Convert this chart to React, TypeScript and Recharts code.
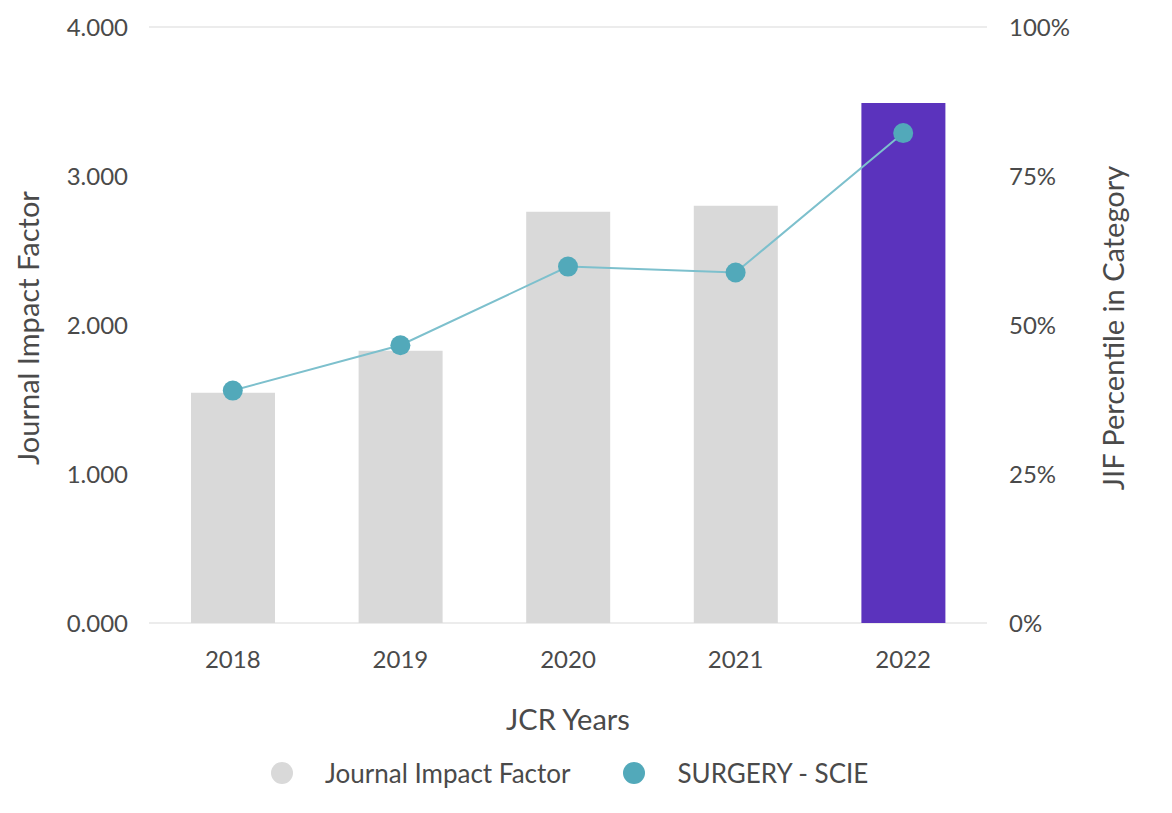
import { ComposedChart, Bar, Line, Cell, XAxis, YAxis, CartesianGrid, Legend } from 'recharts';

const years = ['2018', '2019', '2020', '2021', '2022'];
const impactFactor = [1.546, 1.828, 2.76, 2.8, 3.49];
const percentile = [39.0, 46.6, 59.8, 58.8, 82.2];
const leftTicks = [0, 1, 2, 3, 4];
const rightTicks = [0, 25, 50, 75, 100];
const currentYear = '2022';

const data = years.map((year, i) => ({ year, jif: impactFactor[i], pct: percentile[i] }));

const FONT = 'Lato, "Open Sans", sans-serif';
const TEXT = '#4a4a4a';
const GRAY = '#d9d9d9';
const PURPLE = '#5b33bd';
const TEAL = '#52a9ba';
const TEAL_LINE = '#7dc0cd';

const tickStyle = { fontSize: 24, fill: TEXT, fontFamily: FONT };

function VTitle({ viewBox, value, dx }: any) {
  const x = viewBox.x + dx;
  const y = viewBox.y + viewBox.height / 2 + 3;
  return (
    <text x={x} y={y} transform={`rotate(-90, ${x}, ${y})`} textAnchor="middle"
      dominantBaseline="central" fontSize={29} fill={TEXT} fontFamily={FONT}>
      {value}
    </text>
  );
}

function XTitle({ viewBox }: any) {
  const x = viewBox.x + viewBox.width / 2;
  return (
    <text x={x} y={718} textAnchor="middle" dominantBaseline="central"
      fontSize={29} fill={TEXT} fontFamily={FONT}>
      JCR Years
    </text>
  );
}

function LegendBox() {
  const items = [
    { label: 'Journal Impact Factor', color: GRAY },
    { label: 'SURGERY - SCIE', color: TEAL },
  ];
  return (
    <div style={{ height: 70, display: 'flex', alignItems: 'flex-start', paddingLeft: 271, paddingTop: 18, boxSizing: 'border-box' }}>
      {items.map(it => (
        <div key={it.label} style={{ display: 'flex', alignItems: 'center', height: 24, marginRight: 53 }}>
          <span style={{ width: 22, height: 22, borderRadius: '50%', background: it.color, marginRight: 32 }} />
          <span style={{ fontFamily: FONT, fontSize: 26, color: TEXT }}>{it.label}</span>
        </div>
      ))}
    </div>
  );
}

export default function App() {
  return (
    <div style={{ position: 'relative', width: 1172, height: 813, margin: -8, background: '#fff', overflow: 'hidden' }}>
      <div style={{ position: 'absolute', left: 0, top: 0, width: 2, height: 812, background: '#d4d4d4' }} />
      <ComposedChart width={1172} height={813} data={data}
        margin={{ top: 27, right: 0, bottom: 0, left: 0 }}>
        <CartesianGrid vertical={false} stroke="#e6e6e6" strokeWidth={1.5} />
        <XAxis dataKey="year" height={120} axisLine={false} tickLine={false} tickSize={0}
          tickMargin={28} tick={tickStyle} label={(p: any) => <XTitle {...p} />} />
        <YAxis yAxisId="left" width={149} domain={[0, 4]} ticks={leftTicks}
          axisLine={false} tickLine={false} tickSize={0} tickMargin={21} tick={tickStyle}
          tickFormatter={(v: number) => v.toFixed(3)}
          label={(p: any) => <VTitle {...p} value="Journal Impact Factor" dx={27} />} />
        <YAxis yAxisId="right" orientation="right" width={185} domain={[0, 100]} ticks={rightTicks}
          axisLine={false} tickLine={false} tickSize={0} tickMargin={22} tick={tickStyle}
          tickFormatter={(v: number) => `${v}%`}
          label={(p: any) => <VTitle {...p} value="JIF Percentile in Category" dx={125} />} />
        <Legend verticalAlign="bottom" align="left" content={() => <LegendBox />} />
        <Bar yAxisId="left" dataKey="jif" name="Journal Impact Factor" barSize={84} isAnimationActive={false}>
          {data.map(d => (
            <Cell key={d.year} fill={d.year === currentYear ? PURPLE : GRAY} />
          ))}
        </Bar>
        <Line yAxisId="right" dataKey="pct" name="SURGERY - SCIE" type="linear" stroke={TEAL_LINE} strokeWidth={2}
          dot={{ r: 10, fill: TEAL, stroke: 'none' }} activeDot={false} isAnimationActive={false} />
      </ComposedChart>
    </div>
  );
}
